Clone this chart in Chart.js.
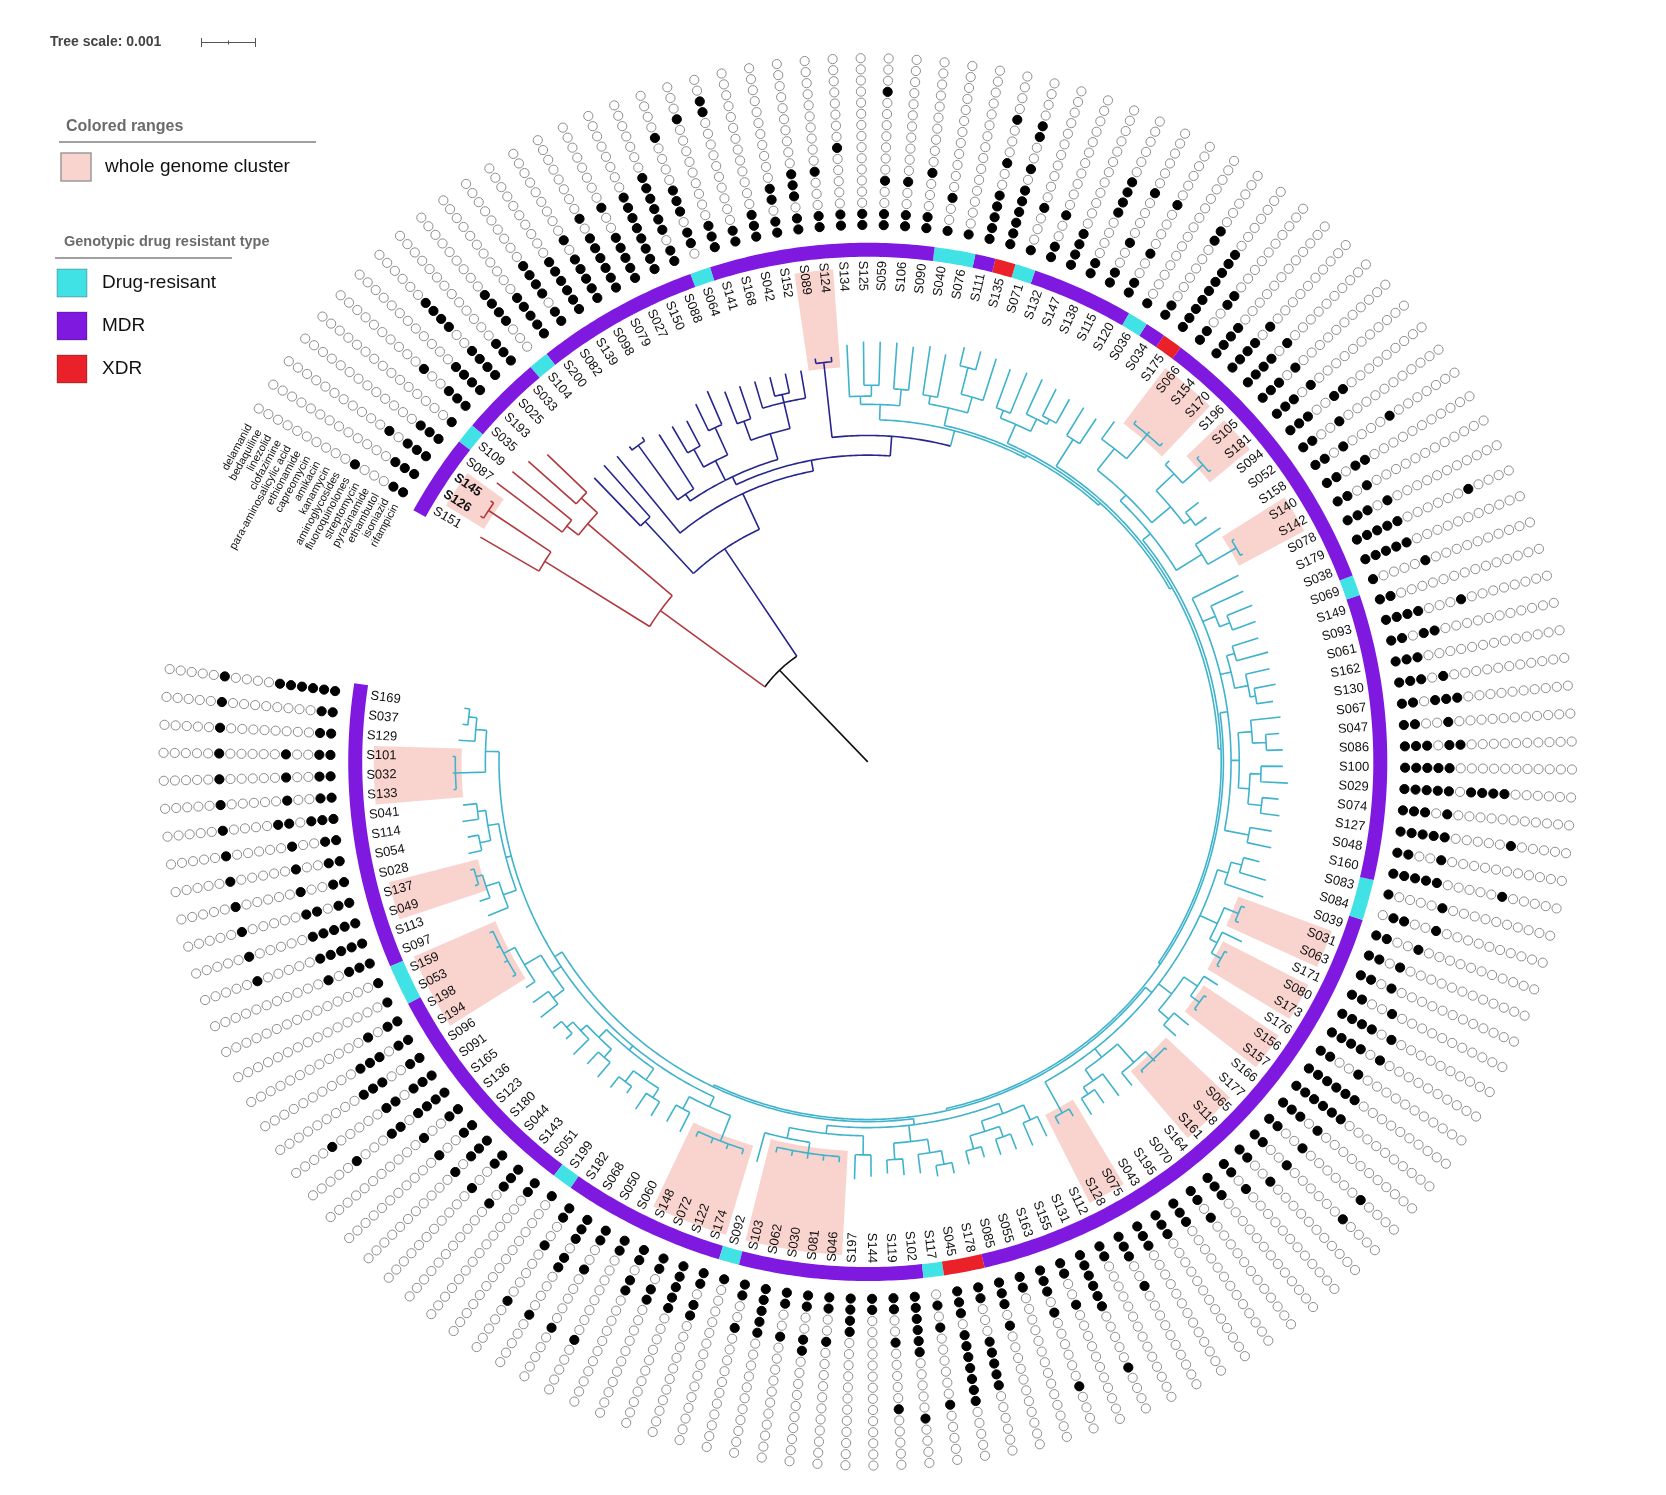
<!DOCTYPE html>
<html>
<head>
<meta charset="utf-8">
<script src="https://cdn.jsdelivr.net/npm/chart.js@4.4.1/dist/chart.umd.min.js"></script>
<style>
  html, body { margin: 0; padding: 0; background: #fff; }
  #wrap { width: 1666px; height: 1495px; }
</style>
</head>
<body>
<div id="wrap"><canvas id="treeChart" width="1666" height="1495"></canvas></div>
<script>
// Leaves in ring order, clockwise from the gap at the upper left
const samples = ['S151','S126','S145','S087','S109','S035','S193','S025','S033','S104','S200','S082','S139','S098','S079','S027','S150','S088','S064','S141','S168','S042','S152','S089','S124','S134','S125','S059','S106','S090','S040','S076','S111','S135','S071','S132','S147','S138','S115','S120','S036','S034','S175','S066','S154','S170','S196','S105','S181','S094','S052','S158','S140','S142','S078','S179','S038','S069','S149','S093','S061','S162','S130','S067','S047','S086','S100','S029','S074','S127','S048','S160','S083','S084','S039','S031','S063','S171','S080','S173','S176','S156','S157','S166','S177','S065','S118','S161','S164','S070','S195','S043','S075','S128','S112','S131','S155','S163','S055','S085','S178','S045','S117','S102','S119','S144','S197','S046','S081','S030','S062','S103','S092','S174','S122','S072','S148','S060','S050','S068','S182','S199','S051','S143','S044','S180','S123','S136','S165','S091','S096','S194','S198','S053','S159','S097','S113','S049','S137','S028','S054','S114','S041','S133','S032','S101','S129','S037','S169'];

// Genotypic type (everything else is MDR)
const drugResistantSamples = ['S109','S104','S064','S040','S076','S071','S036','S069','S083','S084','S117','S092','S199','S159','S053'];
const xdrSamples = ['S135','S175','S045','S178'];
const boldLabels = ['S145','S126'];

// Dot rings, inner to outer
const drugs = ['rifampicin','isoniazid','ethambutol','pyrazinamide','streptomycin','fluoroquinolones','aminoglycosides','kanamycin','amikacin','capreomycin','ethionamide','para-aminosalicylic acid','clofazimine','linezolid','bedaquiline','delamanid'];

// Resistance per sample, same order as samples, one char per drug (1 = resistant)
const profiles = [
  '1100010000000000','1110000000000000','1110100000000000','1110000000000000','1000000000000000',
  '1110010000000000','1111000000000000','1111001111000000','1110000000000000','0001111000000000',
  '1111100000000000','1101111000000000','1111110000000000','1111101000000000','1111110100000000',
  '1111100100000000','1111111100000000','1101111110000000','0110111000010000','1110000000001000',
  '1100000000001100','1110000000000000','1101100000000000','1101110000000000','1100010000000000',
  '1100000100000000','1100000000000000','1100100000001000','1100100000000000','1100010000000000',
  '1001000000000000','1000000000000000','1111100100010000','1111110100110000','1000100000000000',
  '1100100000000000','1111000000000000','1100001111000000','1100100001000000','1100100001000000',
  '1000000000000000','1100000011000000','1111111110000000','1100110000000000','1111000000000000',
  '1111010000000000','1111010000000000','1110100000000000','1110100000000000','1110011000000000',
  '1100100000000000','1101000010000000','1101100000000000','1101000000000000','1110100000000000',
  '1111100000010000','1111100000000000','1000010000000000','1100000000000000','1111000100000000',
  '1101100000000000','1110000000000000','1110100000000000','1101110000000000','1100100000000000',
  '1110110000000000','1111100000000000','1111101111000000','1110100000000000','1111100000100000',
  '1100100000000000','1111100000100000','1000010000000000','0110010000000000','1100100000000000',
  '1101000000000000','1101000000000000','1100100000000000','1111010000000000','1111010000000000',
  '1100100000000000','1111110000000000','1111110000000000','1110100000000000','1100100000010000',
  '1100100000010000','1100100000000000','1101000000000000','1110000000000000','1101000000000000',
  '1110000000000000','1110000000000000','1110000000000000','1110010000000000','1100000000000000',
  '1111110000010000','1100100000000000','1110100000010000','1100000000000000','1110100000000000',
  '1100011111000000','1110111111100000','0101000000100000','1111110000010000','1100100000100000',
  '1100000000000000','1111000000000000','1100100000000000','1100110000000000','1100100000000000',
  '1111100000000000','1100100000000000','1000000000000000','1101100000000000','1111100000000000',
  '1101100000000000','1101100000000000','1100000000100000','1100100000100000','1110110000100000',
  '1100100000100000','1000000000000000','1100000000000000','1110100000000000','1100100000000000',
  '1110100000000000','1100100000000000','1100100000000000','1111011000100000','1110110000010000',
  '1100111000000000','1101110000000000','1101000000000000','1000000000000000','1000000000000000',
  '1110100000000000','1111100000100000','1111100000100000','1101100000100000','1100100000100000',
  '1100100000100000','1100100000100000','1110110000100000','1100100000100000','1100100000100000',
  '1100100000100000','1100000000100000','1100000000100000','1111110000100000'
];

// Whole genome clusters (pink ranges)
const clusters = [
  ['S126','S145'], ['S089','S124'], ['S066','S154','S170'], ['S105','S181'], ['S140','S142'],
  ['S031','S063'], ['S080','S173'], ['S156','S157'], ['S065','S118','S161'], ['S075','S128'],
  ['S046','S081','S030','S062','S103'], ['S174','S122','S072','S148'], ['S194','S198','S053','S159'],
  ['S049','S137'], ['S133','S032','S101']
];

// Tree, Newick-like, but each number is the node's distance from the root in units of 0.0001
const cyanTop1 = '((S134:76.5,(S125:77,S059:77):69):67,(S106:77,S090:76.5):68.5):65.5';
const cyanTop2 = '((S040:77,S076:76):68,((S111:78,S135:78):74.5,S071:77.5):69.5):66.5';
const cyanTop3 = '((S132:76.5,S147:77):69,(S138:77,(S115:76.5,S120:76):71):70):67.5';
const cyanTop4 = '(S036:76,S034:75.5):70';
const cyanUpperRight = '(((S175:77,(S066:79.5,S154:79.5,S170:79.5):78.8):73,((S196:78,(S105:82.5,S181:82.5):82):77,(S094:77,S052:76.5):74):72.5):68,(S158:77.5,(S140:78.5,S142:78.5):78):72):66.5';
const cyanRight = '(S078:76,(S179:75.5,(S038:76,S069:75.5):71):69,((S149:75,S093:76):70,(S061:75.5,(S162:76,S130:75):72):71):68.5,((S067:76,(S047:75.5,S086:76):73):70.5,((S100:76,S029:77):72,(S074:75.5,S127:76):72.5):70):68,(S048:75,S160:75.5):71):66.5';
const cyanLowerRight = '(((S083:74,S084:76):71,S039:76.5):69,((S031:74,S063:74):73.3,(S171:76,(S080:74.5,S173:74.5):74):72):70.5,((S176:76,(S156:75.5,S157:75.5):75):73,(S166:76,S177:75.5):72.5):70,(((S065:76,S118:76,S161:76):75.5,S164:76.5):73.5,(S070:76.5,(S195:76,S043:76.5):73):71.5):69,(S075:75,S128:75):73.5):67';
const cyanBottom = '(((S112:76,S131:76.5):72,((S155:76,S163:76):73,(S055:75.5,S085:76):73.5):71):69,(((S178:77,S045:77):75,S117:76):72.5,(S102:76,S119:75.5):73):70,((S144:76,S197:76.5):72,((S046:73.5,S081:73.5,S030:73.5,S062:73.5,S103:73.5):72.5,S092:76):70.5):68.5):67';
const cyanLeft = '(((S174:75.5,S122:75.5,S072:75.5,S148:75.5):74.5,(S060:76,S050:75.5):72):69.5,(((S068:76,S182:76.5):73,(S199:75,S051:76):73.5):71,((S143:76,S044:75.5):72.5,(S180:76,(S123:75,S136:75.5):73.5):72):70.5):68.5,((S165:76,S091:75.5):72,(S096:75,(S194:76,S198:76,S053:76,S159:76):75.3):73):69.5,((S097:75,(S113:75.5,(S049:75.4,S137:75.4):74.7):73.5):71,((S028:75,S054:74.5):72.5,(S114:75,S041:74.5):72):70.5):68.5,((S133:76,S032:76,S101:76):75.5,(S129:75,(S037:74.5,S169:74.5):73.5):72):70):67.5';
const cyanClade = '(' + cyanTop1 + ',(' + cyanTop2 + ',(' + cyanTop3 + ',(' + cyanTop4 + ',(' + cyanUpperRight +
  ',(' + cyanRight + ',(' + cyanLowerRight + ',(' + cyanBottom + ',' + cyanLeft +
  '):65.9):65.5):65.1):64.7):64.2):63.7):63.2)cyan:62.7';
const redClade = '((S151:82,(S126:84,S145:84):83.3):69.6,((S087:85,S109:84):70,(S035:83,S193:81.3):71.3):67.3)red:47';
const blueClade = '((S025:72.2,S033:72.7):60,(S104:72.4,((((S200:72.4,S082:72.4):71.6,S139:71.1):59.3,' +
  '((S098:71.1,S079:70.7):65.5,(S027:72.7,S150:74):67.3):61.8,' +
  '((S088:72.7,S064:72.7):66.4,(S141:72.7,(S168:72.7,S042:72.7):69.1,S152:72.7):67.6):62.7):57.8,' +
  '((S089:74.5,S124:74.5):73.6,' + cyanClade + '):59.8):56.2):54.2)blue:47';
const treeNewick = '((' + redClade + ',' + blueClade + '):23.3):0';

// Geometry (canvas pixels)
const W = 1666, H = 1495;
const CX = 868, CY = 762;          // centre of the circle
const START = 151, STEP = 2.28;    // degrees
const RING_IN = 509, RING_OUT = 523;
const DOT_R0 = 541, DOT_STEP = 11.2, DOT_SIZE = 4.6;
const LABEL_R = 505;
const PINK_OUT = 497;
const U = 5.5;                     // pixels per 0.0001
const SOLID = [6000, 0];           // keeps Chart.js off its pixel-merging fast path

const colors = {
  black: '#111111', red: '#b23a3f', blue: '#26268f', cyan: '#3fb3cc',
  pink: '#f9d4cf', mdr: '#8019e0', dr: '#40e2e6', xdr: '#ea2128'
};
const FONT = '"Liberation Sans", Arial, sans-serif';

const leafAngle = i => START - STEP * (i + 0.5);
const toXY = (r, deg) => {
  const a = deg * Math.PI / 180;
  return { x: r * Math.cos(a), y: r * Math.sin(a) };
};
function arcPoints(r, a0, a1) {
  const n = Math.max(2, Math.ceil(Math.abs(a1 - a0) / 0.5) + 1);
  const pts = [];
  for (let k = 0; k < n; k++) pts.push(toXY(r, a0 + (a1 - a0) * k / (n - 1)));
  return pts;
}

// Parse the tree string
function parseTree(str) {
  const s = str.replace(/\s+/g, '');
  let i = 0;
  function readWord() { const j = i; while (i < s.length && /[A-Za-z0-9.]/.test(s[i])) i++; return s.slice(j, i); }
  function node() {
    const n = { children: [] };
    if (s[i] === '(') {
      i++;
      n.children.push(node());
      while (s[i] === ',') { i++; n.children.push(node()); }
      i++;
      const tag = readWord();
      if (tag) n.tag = tag;
    } else {
      n.name = readWord();
    }
    if (s[i] === ':') { i++; n.depth = parseFloat(readWord()); }
    return n;
  }
  return node();
}

function layoutTree(n, parent) {
  n.color = n.tag || (parent ? parent.color : 'black');
  if (!n.children.length) {
    n.angle = leafAngle(samples.indexOf(n.name));
    n.leaves = [n.name];
    return;
  }
  n.children.forEach(c => layoutTree(c, n));
  n.angle = (n.children[0].angle + n.children[n.children.length - 1].angle) / 2;
  n.leaves = n.children.flatMap(c => c.leaves);
}

const tree = parseTree(treeNewick);
layoutTree(tree, null);

// Branches: radial pieces and arcs, one point list per colour with gaps between pieces
const GAP = { x: null, y: null };
const branchPoints = { black: [], red: [], blue: [], cyan: [] };
function collectBranches(n, parent) {
  const list = branchPoints[n.color];
  if (parent) list.push(toXY(parent.depth * U, n.angle), toXY(n.depth * U, n.angle), GAP);
  if (n.children.length > 1) {
    list.push(...arcPoints(n.depth * U, n.children[0].angle, n.children[n.children.length - 1].angle), GAP);
  }
  n.children.forEach(c => collectBranches(c, n));
}
collectBranches(tree, null);

function findClade(n, names) {
  if (!names.every(s => n.leaves.includes(s))) return null;
  for (const c of n.children) {
    const f = findClade(c, names);
    if (f) return f;
  }
  return n;
}

const datasets = [];

// Pink cluster ranges
clusters.forEach(names => {
  const idx = names.map(s => samples.indexOf(s));
  const clade = findClade(tree, names);
  const rIn = clade.depth * U - 6;
  const a0 = leafAngle(Math.min(...idx)) + STEP / 2;
  const a1 = leafAngle(Math.max(...idx)) - STEP / 2;
  datasets.push({
    data: arcPoints((rIn + PINK_OUT) / 2, a0, a1),
    showLine: true, borderColor: colors.pink, borderWidth: PINK_OUT - rIn,
    borderCapStyle: 'butt', borderDash: SOLID, pointRadius: 0, fill: false, order: 6
  });
});

// Tree branches
['cyan', 'blue', 'red', 'black'].forEach(c => {
  datasets.push({
    data: branchPoints[c], showLine: true, spanGaps: false,
    borderColor: colors[c], borderWidth: 1.6, borderCapStyle: 'butt', borderDash: SOLID,
    pointRadius: 0, fill: false, order: 5
  });
});

// Genotypic type ring
const typeOf = s => xdrSamples.includes(s) ? 'xdr' : (drugResistantSamples.includes(s) ? 'dr' : 'mdr');
let runStart = 0;
for (let i = 1; i <= samples.length; i++) {
  if (i === samples.length || typeOf(samples[i]) !== typeOf(samples[runStart])) {
    datasets.push({
      data: arcPoints((RING_IN + RING_OUT) / 2, leafAngle(runStart) + STEP / 2, leafAngle(i - 1) - STEP / 2),
      showLine: true, borderColor: colors[typeOf(samples[runStart])], borderWidth: RING_OUT - RING_IN,
      borderCapStyle: 'butt', borderDash: SOLID, pointRadius: 0, fill: false, order: 3
    });
    runStart = i;
  }
}

// Resistance dots
const dotsResistant = [], dotsSusceptible = [];
samples.forEach((s, i) => {
  for (let k = 0; k < drugs.length; k++) {
    const p = toXY(DOT_R0 + k * DOT_STEP, leafAngle(i));
    (profiles[i][k] === '1' ? dotsResistant : dotsSusceptible).push(p);
  }
});
datasets.push({
  data: dotsSusceptible, showLine: false, pointRadius: DOT_SIZE,
  pointBackgroundColor: '#ffffff', pointBorderColor: '#8c8c8c', pointBorderWidth: 1, order: 2
});
datasets.push({
  data: dotsResistant, showLine: false, pointRadius: DOT_SIZE,
  pointBackgroundColor: '#000000', pointBorderColor: '#000000', pointBorderWidth: 1, order: 1
});

const textPlugin = {
  id: 'treeText',
  afterDatasetsDraw(chart) {
    const { ctx, scales: { x, y } } = chart;
    const pix = p => [x.getPixelForValue(p.x), y.getPixelForValue(p.y)];
    ctx.save();
    ctx.textBaseline = 'middle';
    ctx.fillStyle = '#111';

    // leaf labels
    samples.forEach((s, i) => {
      const deg = leafAngle(i), a = deg * Math.PI / 180;
      const [lx, ly] = pix(toXY(LABEL_R, deg));
      const right = Math.cos(a) >= 0;
      ctx.save();
      ctx.translate(lx, ly);
      ctx.rotate(right ? -a : Math.PI - a);
      ctx.textAlign = right ? 'right' : 'left';
      ctx.font = (boldLabels.includes(s) ? 'bold ' : '') + '13px ' + FONT;
      ctx.fillText(s, 0, 0);
      ctx.restore();
    });

    // drug names in the gap
    const dDeg = START + 0.4, da = dDeg * Math.PI / 180;
    ctx.font = '11px ' + FONT;
    ctx.textAlign = 'right';
    drugs.forEach((d, k) => {
      const [lx, ly] = pix(toXY(DOT_R0 + k * DOT_STEP, dDeg));
      ctx.save();
      ctx.translate(lx, ly);
      ctx.rotate(Math.PI / 2 - da);
      ctx.fillText(d, 0, 0);
      ctx.restore();
    });
    ctx.restore();
  },
  afterDraw(chart) {
    const ctx = chart.ctx;
    ctx.save();
    ctx.textBaseline = 'middle';
    ctx.textAlign = 'left';

    // tree scale
    ctx.fillStyle = '#444';
    ctx.font = 'bold 14px ' + FONT;
    ctx.fillText('Tree scale: 0.001', 50, 42);
    const x0 = 201, len = 10 * U;
    ctx.strokeStyle = '#555';
    ctx.lineWidth = 1;
    ctx.beginPath();
    ctx.moveTo(x0, 42.5); ctx.lineTo(x0 + len, 42.5);
    ctx.moveTo(x0 + 0.5, 38); ctx.lineTo(x0 + 0.5, 47);
    ctx.moveTo(x0 + len - 0.5, 38); ctx.lineTo(x0 + len - 0.5, 47);
    ctx.moveTo(x0 + len / 2, 40.5); ctx.lineTo(x0 + len / 2, 44.5);
    ctx.stroke();

    // colored ranges legend
    ctx.fillStyle = '#6b6b6b';
    ctx.font = 'bold 16px ' + FONT;
    ctx.fillText('Colored ranges', 66, 127);
    ctx.strokeStyle = '#a0a0a0';
    ctx.lineWidth = 2;
    ctx.beginPath(); ctx.moveTo(59, 142); ctx.lineTo(316, 142); ctx.stroke();
    ctx.fillStyle = colors.pink;
    ctx.fillRect(61, 153, 30, 28);
    ctx.strokeStyle = '#9a9a9a'; ctx.lineWidth = 1.5;
    ctx.strokeRect(61, 153, 30, 28);
    ctx.fillStyle = '#111';
    ctx.font = '19px ' + FONT;
    ctx.fillText('whole genome cluster', 105, 167);

    // genotypic type legend
    ctx.fillStyle = '#6b6b6b';
    ctx.font = 'bold 14.5px ' + FONT;
    ctx.fillText('Genotypic drug resistant type', 64, 242);
    ctx.strokeStyle = '#a0a0a0'; ctx.lineWidth = 2;
    ctx.beginPath(); ctx.moveTo(55, 258); ctx.lineTo(232, 258); ctx.stroke();
    [['dr', 'Drug-resisant', 269], ['mdr', 'MDR', 312], ['xdr', 'XDR', 355]].forEach(([key, text, top]) => {
      ctx.fillStyle = colors[key];
      ctx.fillRect(57, top, 30, 28);
      ctx.strokeStyle = 'rgba(0,0,0,0.25)'; ctx.lineWidth = 1;
      ctx.strokeRect(57, top, 30, 28);
      ctx.fillStyle = '#111';
      ctx.font = '19px ' + FONT;
      ctx.fillText(text, 102, top + 14);
    });
    ctx.restore();
  }
};

new Chart(document.getElementById('treeChart'), {
  type: 'scatter',
  data: { datasets },
  options: {
    responsive: false,
    animation: false,
    events: [],
    layout: { padding: 0 },
    scales: {
      x: { type: 'linear', display: false, min: -CX, max: W - CX },
      y: { type: 'linear', display: false, min: -(H - CY), max: CY }
    },
    plugins: {
      legend: { display: false },
      tooltip: { enabled: false }
    }
  },
  plugins: [textPlugin]
});
</script>
</body>
</html>
